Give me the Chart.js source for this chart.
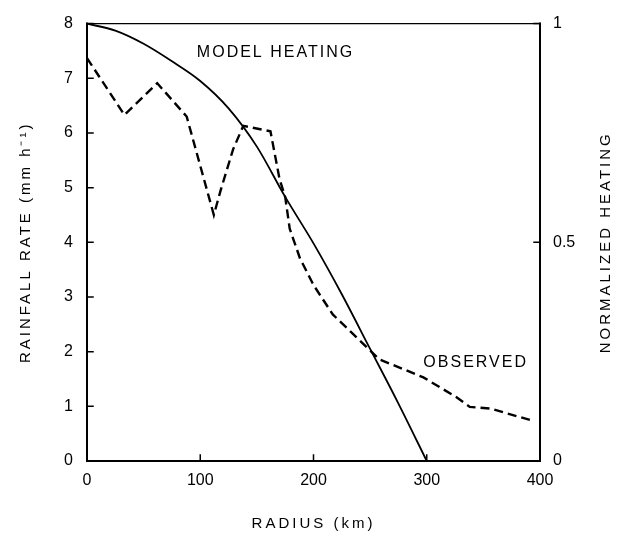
<!DOCTYPE html>
<html>
<head>
<meta charset="utf-8">
<script src="https://cdn.jsdelivr.net/npm/chart.js@4.4.1/dist/chart.umd.min.js"></script>
<style>
html,body{margin:0;padding:0;background:#fff;}
#wrap{width:637px;height:540px;position:relative;}
</style>
</head>
<body>
<div id="wrap"><canvas id="c"></canvas></div>
<script>
// Radius (km) and values
const modelRadius = [0, 25, 50, 75, 100, 125, 150, 175, 200, 225, 250, 275, 300];
const modelHeating = [8, 7.87, 7.63, 7.31, 6.95, 6.45, 5.75, 4.83, 3.98, 3.05, 2.05, 1.05, 0];
const obsRadius = [0, 33, 62, 88, 112, 118, 129, 138, 162, 170, 175, 179, 188, 200, 217, 241, 258, 297, 326, 338, 356, 393];
const obsRain = [7.37, 6.33, 6.91, 6.3, 4.5, 4.95, 5.7, 6.13, 6.03, 5.16, 4.83, 4.25, 3.71, 3.22, 2.68, 2.2, 1.86, 1.53, 1.17, 0.99, 0.96, 0.74];
const xTicks = [0, 100, 200, 300, 400];
const leftTicks = [0, 1, 2, 3, 4, 5, 6, 7, 8];
const rightTicks = [0, 0.5, 1];
const labels = {
  x: 'RADIUS (km)',
  yLeft: 'RAINFALL RATE (mm h\u207B\u00B9)',
  yRight: 'NORMALIZED HEATING',
  model: 'MODEL HEATING',
  observed: 'OBSERVED'
};

const tickFont = {family: "'Liberation Sans',Arial,sans-serif", size: 16};
const titleFont = {family: "'Liberation Sans',Arial,sans-serif", size: 15};

// letter-spaced axis titles; optional 180° flip so the right title reads bottom-to-top
function spaced(scale, spacing, flip) {
  if (scale._spacedWrap) return;
  const orig = scale.drawTitle.bind(scale);
  scale.drawTitle = function () {
    const c = this.ctx;
    const prev = c.letterSpacing;
    c.save();
    c.letterSpacing = spacing;
    if (flip) {
      const pad = this.options.title.padding;
      const padTop = typeof pad === 'object' ? (pad.top || 0) : pad;
      const lh = this.options.title.font.size * 1.2;
      const cx = this.right - (padTop + lh / 2);
      const cy = (this.top + this.bottom) / 2;
      c.translate(cx, cy);
      c.rotate(Math.PI);
      c.translate(-cx, -cy);
    }
    orig();
    c.restore();
    c.letterSpacing = prev || '0px';
  };
  scale._spacedWrap = true;
}

const frame = {
  id: 'frame',
  afterDatasetsDraw(chart) {
    const ctx = chart.ctx;
    const a = chart.chartArea;
    const sx = chart.scales.x, sy = chart.scales.y, sr = chart.scales.y1;
    ctx.save();
    ctx.strokeStyle = '#000';
    ctx.lineCap = 'square';
    ctx.lineWidth = 2;
    ctx.beginPath();
    ctx.moveTo(a.left, a.top); ctx.lineTo(a.left, a.bottom);
    ctx.lineTo(a.right, a.bottom); ctx.lineTo(a.right, a.top);
    ctx.stroke();
    ctx.lineWidth = 1.2;
    ctx.beginPath();
    ctx.moveTo(a.left, a.top); ctx.lineTo(a.right, a.top);
    ctx.stroke();
    // inward ticks
    ctx.lineWidth = 1.5;
    ctx.beginPath();
    leftTicks.forEach(v => {
      const y = sy.getPixelForValue(v);
      ctx.moveTo(a.left, y); ctx.lineTo(a.left + 6, y);
    });
    xTicks.forEach(v => {
      const x = sx.getPixelForValue(v);
      ctx.moveTo(x, a.bottom); ctx.lineTo(x, a.bottom - 6);
    });
    rightTicks.forEach(v => {
      const y = sr.getPixelForValue(v);
      ctx.moveTo(a.right, y); ctx.lineTo(a.right - 6, y);
    });
    ctx.stroke();
    // annotations
    ctx.fillStyle = '#000';
    ctx.font = "16px 'Liberation Sans',Arial,sans-serif";
    ctx.letterSpacing = '2px';
    ctx.textBaseline = 'middle';
    ctx.textAlign = 'left';
    ctx.fillText(labels.model, sx.getPixelForValue(97), sy.getPixelForValue(7.47));
    ctx.fillText(labels.observed, sx.getPixelForValue(297), sy.getPixelForValue(1.8));
    ctx.letterSpacing = '0px';
    ctx.restore();
  }
};

new Chart(document.getElementById('c'), {
  type: 'line',
  data: {
    datasets: [
      {
        label: labels.model,
        data: modelRadius.map((r, i) => ({x: r, y: modelHeating[i]})),
        borderColor: '#000',
        borderWidth: 1.8,
        pointRadius: 0,
        cubicInterpolationMode: 'monotone',
        fill: false
      },
      {
        label: labels.observed,
        data: obsRadius.map((r, i) => ({x: r, y: obsRain[i]})),
        borderColor: '#000',
        borderWidth: 2.4,
        borderDash: [9, 5],
        pointRadius: 0,
        tension: 0,
        fill: false
      }
    ]
  },
  options: {
    responsive: true,
    maintainAspectRatio: false,
    animation: false,
    devicePixelRatio: 1,
    layout: {padding: {top: 20, left: 0, right: 0, bottom: 0}},
    plugins: {legend: {display: false}, tooltip: {enabled: false}},
    scales: {
      x: {
        type: 'linear', min: 0, max: 400,
        afterBuildTicks: s => { s.ticks = xTicks.map(v => ({value: v})); },
        afterFit: s => { s.height = 79; spaced(s, '3px', false); },
        grid: {display: false, drawTicks: false},
        border: {display: false},
        ticks: {color: '#000', font: tickFont, padding: 10, maxRotation: 0},
        title: {display: true, text: labels.x, color: '#000', font: titleFont, padding: {top: 0, bottom: 7}}
      },
      y: {
        type: 'linear', position: 'left', min: 0, max: 8,
        afterBuildTicks: s => { s.ticks = leftTicks.map(v => ({value: v})); },
        afterFit: s => { s.width = 87; spaced(s, '3px', false); },
        grid: {display: false, drawTicks: false},
        border: {display: false},
        ticks: {color: '#000', font: tickFont, padding: 14},
        title: {display: true, text: labels.yLeft, color: '#000', font: titleFont, padding: {top: 17, bottom: 0}}
      },
      y1: {
        type: 'linear', position: 'right', min: 0, max: 1,
        afterBuildTicks: s => { s.ticks = rightTicks.map(v => ({value: v})); },
        afterFit: s => { s.width = 97; spaced(s, '3px', true); },
        grid: {display: false, drawTicks: false},
        border: {display: false},
        ticks: {color: '#000', font: tickFont, padding: 13, callback: v => String(v)},
        title: {display: true, text: labels.yRight, color: '#000', font: titleFont, padding: {top: 22, bottom: 0}}
      }
    }
  },
  plugins: [frame]
});
</script>
</body>
</html>
